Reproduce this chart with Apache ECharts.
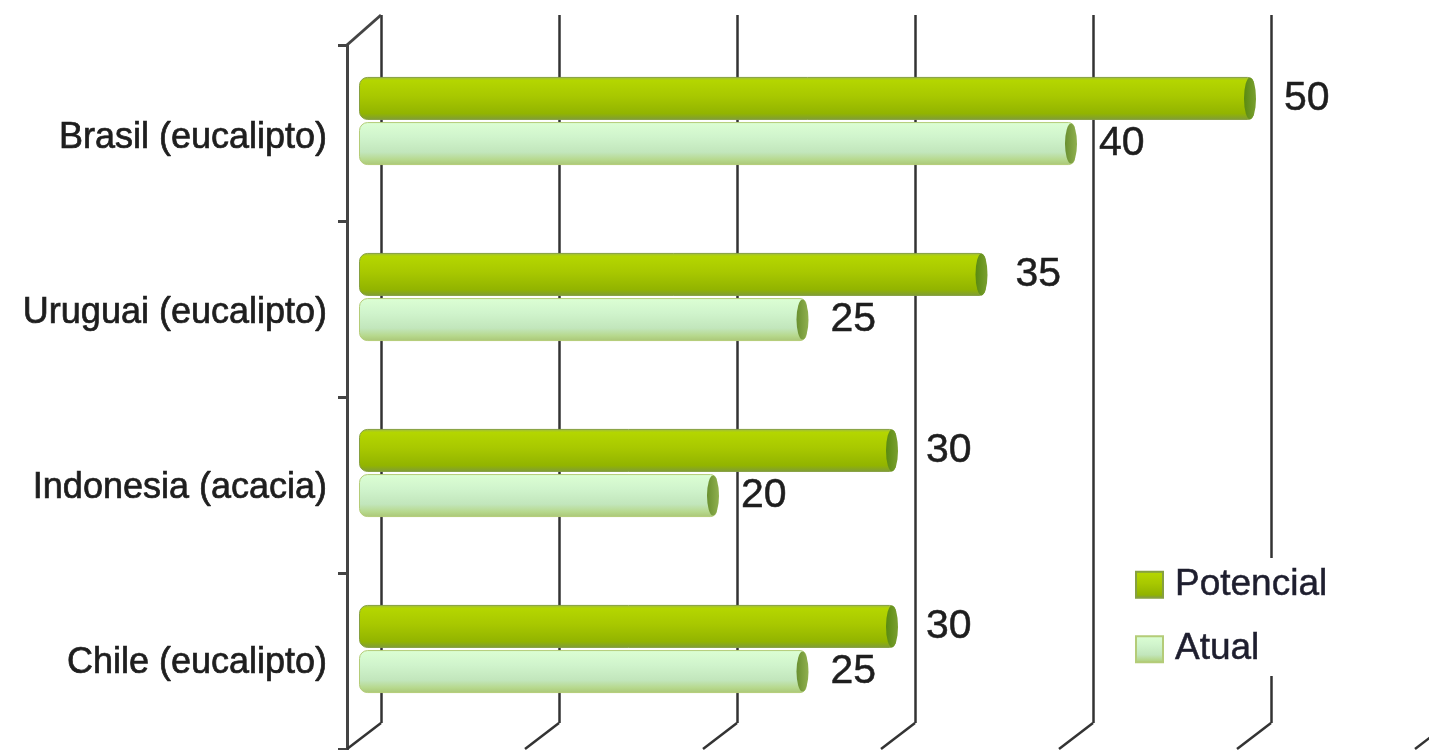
<!DOCTYPE html>
<html><head><meta charset="utf-8">
<script src="https://cdn.jsdelivr.net/npm/echarts@6/dist/echarts.min.js"></script>
<style>html,body{margin:0;padding:0;background:#fff}#c{width:1429px;height:750px}</style>
</head><body><div id="c"></div>
<script>
// ---- data ----
const categories = ['Brasil (eucalipto)', 'Uruguai (eucalipto)', 'Indonesia (acacia)', 'Chile (eucalipto)'];
const potencial = [50, 35, 30, 30];
const atual = [40, 25, 20, 25];
const xTicks = [0, 10, 20, 30, 40, 50, 60];   // 60 lies just beyond the visible area
const xMin = 0, xMax = 50, xStep = 10;

// ---- layout (pixels) ----
const gFront = { left: 347, top: 45, width: 50 * 17.8, height: 704 };
const gLabel = { left: 347, top: 51, width: 50 * 17.8, height: 704 };
const gBars  = { left: 359, top: 33, width: 50 * 17.9, height: 704 };
const gBack  = { left: 381, top: 15, width: 50 * 17.8, height: 708 };

const chart = echarts.init(document.getElementById('c'), null, { renderer: 'canvas' });
const FONT = 'Liberation Sans, Arial, sans-serif';
const TXT = '#1e1e1e';

const potGrad = new echarts.graphic.LinearGradient(0, 0, 0, 1, [
  { offset: 0, color: '#9cb84a' },
  { offset: 0.08, color: '#b4d600' },
  { offset: 0.45, color: '#a8c800' },
  { offset: 0.85, color: '#92b400' },
  { offset: 1, color: '#7e9c3a' }
]);
const atuGrad = new echarts.graphic.LinearGradient(0, 0, 0, 1, [
  { offset: 0, color: '#dcffd4' },
  { offset: 0.35, color: '#d0f4cc' },
  { offset: 0.7, color: '#c2e6bc' },
  { offset: 0.88, color: '#b6d88c' },
  { offset: 1, color: '#aac676' }
]);

const hiddenVal = (gi) => ({ type: 'value', gridIndex: gi, min: xMin, max: xMax, interval: xStep, show: false });
const g = (o) => Object.assign({ containLabel: false }, o);

chart.setOption({
  animation: false,
  backgroundColor: '#ffffff',
  grid: [g(gFront), g(gBars), g(gBack), g(gLabel)],
  xAxis: [
    hiddenVal(0),
    hiddenVal(1),
    {
      type: 'value', gridIndex: 2, min: xMin, max: xMax, interval: xStep,
      axisLine: { show: false }, axisTick: { show: false }, axisLabel: { show: false },
      splitLine: { show: true, lineStyle: { color: '#333333', width: 2.5 } }
    },
    hiddenVal(3)
  ],
  yAxis: [
    {
      type: 'category', gridIndex: 0, data: categories, inverse: true,
      axisLine: { show: true, lineStyle: { color: '#444', width: 3 } },
      axisTick: { show: true, length: 9, lineStyle: { color: '#444', width: 3 } },
      axisLabel: { show: false },
      splitLine: { show: false }
    },
    { type: 'category', gridIndex: 1, data: categories, inverse: true, show: false },
    { type: 'category', gridIndex: 2, data: categories, inverse: true, show: false },
    {
      type: 'category', gridIndex: 3, data: categories, inverse: true,
      axisLine: { show: false }, axisTick: { show: false }, splitLine: { show: false },
      axisLabel: { margin: 20, fontSize: 36, color: TXT, fontFamily: FONT,
        textBorderColor: TXT, textBorderWidth: 0.7 }
    }
  ],
  legend: {
    data: ['Potencial', 'Atual'],
    orient: 'vertical',
    left: 1127, top: 558,
    itemWidth: 27, itemHeight: 26, itemGap: 27,
    icon: 'rect',
    backgroundColor: '#ffffff',
    padding: [8, 8, 8, 8],
    textStyle: { fontSize: 37, color: '#1e1e2e', fontFamily: FONT, padding: [0, 0, 0, 7],
      textBorderColor: '#1e1e2e', textBorderWidth: 0.5 }
  },
  series: [
    {
      name: 'Potencial', type: 'bar', xAxisIndex: 1, yAxisIndex: 1,
      data: potencial, barWidth: 43, barGap: '5%',
      itemStyle: { color: potGrad, borderColor: '#86a040', borderWidth: 1, borderRadius: [8, 6, 6, 8] },
      label: { show: true, position: 'right', distance: 30, fontSize: 41, color: TXT, fontFamily: FONT,
        textBorderColor: TXT, textBorderWidth: 0.5 },
      z: 3
    },
    {
      name: 'Atual', type: 'bar', xAxisIndex: 1, yAxisIndex: 1,
      data: atual, barWidth: 43, barGap: '5%',
      itemStyle: { color: atuGrad, borderColor: '#b4cc78', borderWidth: 1, borderRadius: [8, 6, 6, 8] },
      label: { show: true, position: 'right', distance: 24, fontSize: 41, color: TXT, fontFamily: FONT,
        textBorderColor: TXT, textBorderWidth: 0.5 },
      z: 3
    },
    {
      name: 'capP', type: 'pictorialBar', xAxisIndex: 1, yAxisIndex: 1,
      data: potencial, barWidth: 43, barGap: '5%',
      symbol: 'circle', symbolSize: [12, 42], symbolPosition: 'end', symbolOffset: [2, 0],
      itemStyle: { color: new echarts.graphic.LinearGradient(0, 0, 1, 0, [
        { offset: 0, color: '#5a8a10' }, { offset: 1, color: '#7aa030' }]) },
      z: 4, silent: true
    },
    {
      name: 'capA', type: 'pictorialBar', xAxisIndex: 1, yAxisIndex: 1,
      data: atual, barWidth: 43, barGap: '5%',
      symbol: 'circle', symbolSize: [12, 40], symbolPosition: 'end', symbolOffset: [2, 0],
      itemStyle: { color: new echarts.graphic.LinearGradient(0, 0, 1, 0, [
        { offset: 0, color: '#6a9030' }, { offset: 1, color: '#90b050' }]) },
      z: 4, silent: true
    }
  ]
});

// 3D floor / top edges derived from the axes (values beyond max extrapolate linearly)
const bottomBack = gBack.top + gBack.height;
const bottomFront = gFront.top + gFront.height;
const els = [];
xTicks.forEach(v => {
  const xb = chart.convertToPixel({ xAxisIndex: 2 }, v);
  const xf = chart.convertToPixel({ xAxisIndex: 0 }, v);
  els.push({ type: 'line', shape: { x1: xb, y1: bottomBack, x2: xf, y2: bottomFront },
    style: { stroke: '#333333', lineWidth: 2.5 }, z: 1 });
});
{
  const xb0 = chart.convertToPixel({ xAxisIndex: 2 }, xMin);
  const xf0 = chart.convertToPixel({ xAxisIndex: 0 }, xMin);
  els.push({ type: 'line', shape: { x1: xf0, y1: gFront.top, x2: xb0, y2: gBack.top },
    style: { stroke: '#444444', lineWidth: 3 }, z: 1 });
}
chart.setOption({ graphic: els });
</script>
</body></html>
